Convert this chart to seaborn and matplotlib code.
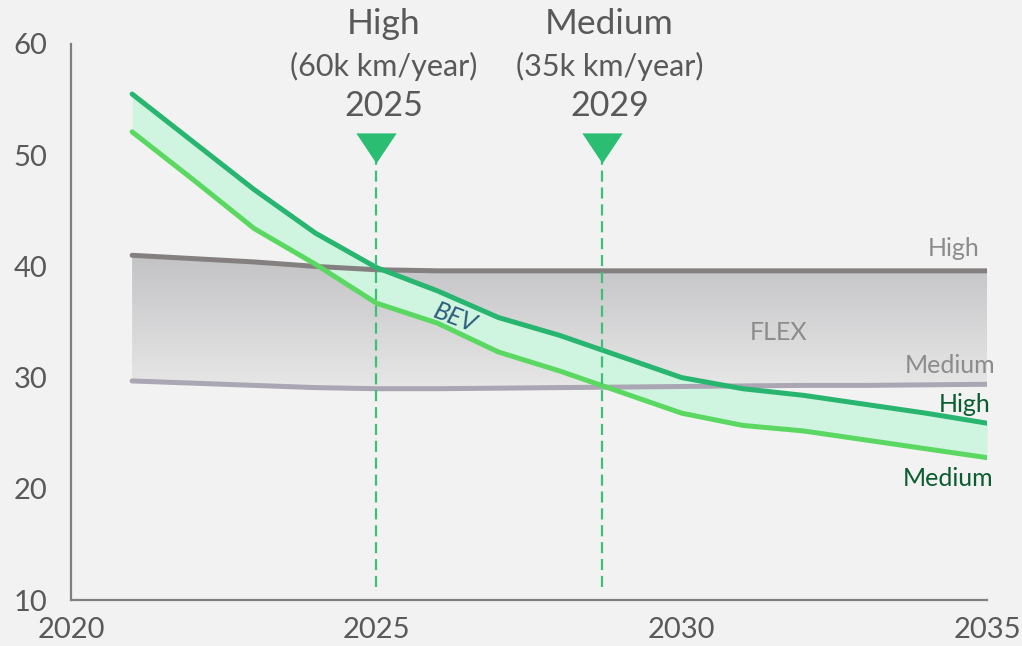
import numpy as np
import pandas as pd
import matplotlib
matplotlib.use("Agg")
import matplotlib.pyplot as plt
import seaborn as sns
from matplotlib.colors import LinearSegmentedColormap
from matplotlib.patches import PathPatch

# ---- data -------------------------------------------------------------
years = list(range(2021, 2036))
bev_high = [55.5, 51.2, 46.9, 43.0, 39.9, 37.8, 35.4, 33.8, 31.9, 30.0,
            29.0, 28.4, 27.6, 26.8, 25.9]
bev_medium = [52.1, 47.8, 43.4, 40.2, 36.7, 34.9, 32.3, 30.6, 28.7, 26.8,
              25.7, 25.2, 24.4, 23.6, 22.8]
flex_high = [41.0, 40.7, 40.4, 40.0, 39.7, 39.6, 39.6, 39.6, 39.6, 39.6,
             39.6, 39.6, 39.6, 39.6, 39.6]
flex_medium = [29.7, 29.5, 29.3, 29.1, 29.0, 29.0, 29.05, 29.1, 29.15, 29.2,
               29.25, 29.3, 29.3, 29.35, 29.4]

breakeven_years = [2025, 2028.7]
breakeven_titles = ["High", "Medium"]
breakeven_mileage = ["(60k km/year)", "(35k km/year)"]

x_ticks = [2020, 2025, 2030, 2035]
y_ticks = [10, 20, 30, 40, 50, 60]

# ---- styling ------------------------------------------------------------
BG = "#f2f2f2"
TXT = "#595959"
C_BEV_HIGH = "#27b56f"
C_BEV_MED = "#5bd862"
C_BEV_FILL = "#cff5e1"
C_FLEX_HIGH = "#858080"
C_FLEX_MED = "#aaa6b4"
C_MARK = "#2bbd72"
C_LABEL_GREEN = "#0b5c2f"
C_LABEL_GRAY = "#8c8c8c"

sns.set_theme(style="white")
plt.rcParams["font.family"] = ["Lato", "DejaVu Sans"]

df = pd.DataFrame({
    "year": years * 4,
    "cost": bev_high + bev_medium + flex_high + flex_medium,
    "series": (["BEV High"] * len(years) + ["BEV Medium"] * len(years)
               + ["FLEX High"] * len(years) + ["FLEX Medium"] * len(years)),
})
palette = {"BEV High": C_BEV_HIGH, "BEV Medium": C_BEV_MED,
           "FLEX High": C_FLEX_HIGH, "FLEX Medium": C_FLEX_MED}

fig = plt.figure(figsize=(10.22, 6.46), dpi=100, facecolor=BG)
ax = fig.add_axes([0.0695, 0.0712, 0.8963, 0.8607], facecolor=BG)

# FLEX band with a vertical grey gradient
band = ax.fill_between(years, flex_medium, flex_high, color="none", lw=0)
clip = PathPatch(band.get_paths()[0], transform=ax.transData,
                 facecolor="none", edgecolor="none")
ax.add_patch(clip)
grad_cmap = LinearSegmentedColormap.from_list("flexgrad", ["#c3c3c6", "#e7e7e7"])
im = ax.imshow(np.linspace(0, 1, 256).reshape(-1, 1), cmap=grad_cmap,
               extent=[min(years), max(years), min(flex_medium), max(flex_high)],
               origin="upper", aspect="auto", zorder=1)
im.set_clip_path(clip)

# BEV band
ax.fill_between(years, bev_medium, bev_high, color=C_BEV_FILL, lw=0, zorder=2)

flex_df = df[df["series"].str.startswith("FLEX")]
bev_df = df[df["series"].str.startswith("BEV")]
sns.lineplot(data=flex_df, x="year", y="cost", hue="series", palette=palette,
             linewidth=3.6, legend=False, ax=ax, zorder=3)
sns.lineplot(data=bev_df, x="year", y="cost", hue="series", palette=palette,
             linewidth=3.6, legend=False, ax=ax, zorder=4)

# break-even markers
tri = [(-1.0, 0.75), (1.0, 0.75), (0.0, -0.75), (-1.0, 0.75)]
for yr, title, mileage in zip(breakeven_years, breakeven_titles, breakeven_mileage):
    ax.vlines(yr, 11.2, 49.6, colors="#3dbf78", linewidth=1.6,
              linestyles=(0, (5, 2.6)), zorder=6)
    ax.plot([yr], [50.65], marker=tri, markersize=29, color=C_MARK,
            markeredgewidth=0, linestyle="none", zorder=7, clip_on=False)
    for txt, yv, fs in [(title, 61.8, 25.5), (mileage, 57.95, 22),
                        (f"{round(yr)}", 54.45, 24.5)]:
        ax.annotate(txt, (yr, yv), xytext=(5, 0), textcoords="offset points",
                    ha="center", va="center", fontsize=fs, color=TXT,
                    annotation_clip=False)

# series labels
ax.text(2034.88, 41.65, "High", ha="right", va="center", fontsize=18,
        color=C_LABEL_GRAY)
ax.text(2035.13, 31.1, "Medium", ha="right", va="center", fontsize=18,
        color=C_LABEL_GRAY)
ax.text(2035.05, 27.6, "High", ha="right", va="center", fontsize=18,
        color=C_LABEL_GREEN)
ax.text(2035.1, 20.9, "Medium", ha="right", va="center", fontsize=18,
        color=C_LABEL_GREEN)
ax.text(2031.58, 34.1, "FLEX", ha="center", va="center", fontsize=18,
        color=C_LABEL_GRAY)
ax.text(2026.29, 35.4, "BEV", ha="center", va="center", fontsize=18,
        color="#2c5c7c", style="italic", rotation=-21)

# axes
ax.set_xlim(2020, 2035)
ax.set_ylim(10, 60)
ax.set_xticks(x_ticks)
ax.set_yticks(y_ticks)
ax.set_xlabel("")
ax.set_ylabel("")
ax.tick_params(axis="both", length=0, labelsize=21, colors=TXT)
ax.tick_params(axis="x", pad=12)
ax.tick_params(axis="y", pad=17)
sns.despine(ax=ax)
for side in ("left", "bottom"):
    ax.spines[side].set_color("#808080")
    ax.spines[side].set_linewidth(1.6)
ax.grid(False)

fig.savefig("out.png", dpi=100, facecolor=BG)
